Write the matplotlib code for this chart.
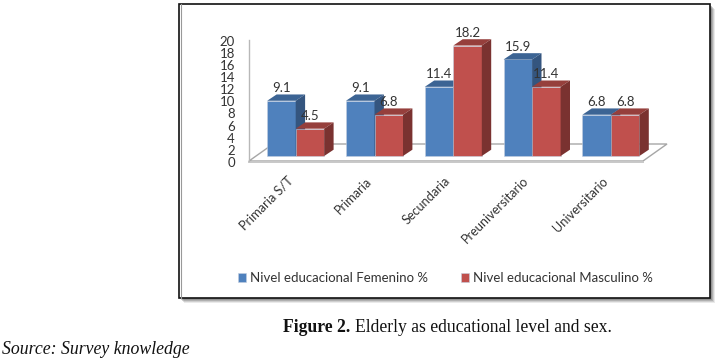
import matplotlib
matplotlib.use("Agg")
import matplotlib.pyplot as plt
from matplotlib.patches import Polygon, Rectangle

categories = ["Primaria S/T", "Primaria", "Secundaria", "Preuniversitario", "Universitario"]
femenino = [9.1, 9.1, 11.4, 15.9, 6.8]
masculino = [4.5, 6.8, 18.2, 11.4, 6.8]
y_ticks = [0, 2, 4, 6, 8, 10, 12, 14, 16, 18, 20]
series_names = ["Nivel educacional Femenino %", "Nivel educacional Masculino %"]

W, H = 717, 360
X0_PX, X_UNIT = 295.7, 78.8   # pixel of first category, pixels per category
Y0_PX, Y_UNIT = 156, 6.07     # pixel of value 0 on the bars, pixels per unit
BAR_W = 28.5 / X_UNIT
DX, DY = 9.4 / X_UNIT, 6.3 / Y_UNIT   # 3d depth of the bars

BLUE, BLUE_TOP, BLUE_SIDE = "#4F81BD", "#3C6494", "#34557F"
RED, RED_TOP, RED_SIDE = "#C0504D", "#963F3C", "#7A3230"
TEXT = "#333333"

fig = plt.figure(figsize=(W / 100, H / 100), dpi=100, facecolor="white")
ax = fig.add_axes([0, 0, 1, 1])
ax.set_xlim(-X0_PX / X_UNIT, (W - X0_PX) / X_UNIT)
ax.set_ylim((Y0_PX - H) / Y_UNIT, Y0_PX / Y_UNIT)
ax.axis("off")


def px(x, y):
    return (x - X0_PX) / X_UNIT, (Y0_PX - y) / Y_UNIT


# --- frame and shadow ---
for off, alpha in [(5, 0.12), (4, 0.18), (3, 0.25), (2, 0.3)]:
    x1, y1 = px(179 + off, 298 + off)
    x2, y2 = px(710 + off, 4 + off)
    ax.add_patch(Rectangle((x1, y1), x2 - x1, y2 - y1, fc="#555555", ec="none", alpha=alpha, zorder=0))
x1, y1 = px(179, 298)
x2, y2 = px(710, 4)
ax.add_patch(Rectangle((x1, y1), x2 - x1, y2 - y1, fc="white", ec="#111111", lw=1.2, zorder=1))
xl, _ = px(181, 0)
ax.plot([xl, xl], [y1, y2], color="#999999", lw=0.8, zorder=1)

# --- wall and floor ---
floor = [px(249, 161), px(643, 161), px(667, 144), px(273, 144)]
ax.add_patch(Polygon(floor, closed=True, fc="white", ec="#a6a6a6", lw=1.0, zorder=2))
ax.plot(*zip(px(249, 162), px(643, 162)), color="#c8c8c8", lw=1.4, zorder=2)
ax.plot(*zip(px(249, 161), px(249, 39.5)), color="#b8b8b8", lw=1.0, zorder=2)

for v in y_ticks:
    lx, ly = px(235, 163 - v * Y_UNIT)
    ax.text(lx, ly, str(v), ha="right", va="center", fontsize=9.5, family="Lato", color=TEXT, zorder=6)


# --- bars ---
def draw_bars(values, offset, face, top, side, name, z):
    xs = [i + offset for i in range(len(values))]
    bars = ax.bar(xs, values, width=BAR_W, align="edge", color=face, edgecolor="#c3cfe0",
                  linewidth=0.4, zorder=z, label=name)
    for x, v in zip(xs, values):
        ax.add_patch(Polygon([(x, v), (x + BAR_W, v), (x + BAR_W + DX, v + DY), (x + DX, v + DY)],
                             closed=True, fc=top, ec="none", zorder=z))
        ax.add_patch(Polygon([(x + BAR_W, 0), (x + BAR_W + DX, DY), (x + BAR_W + DX, v + DY), (x + BAR_W, v)],
                             closed=True, fc=side, ec="none", zorder=z))
        ax.text(x + BAR_W / 2, v + 12.5 / Y_UNIT, f"{v:.1f}", ha="center", va="center",
                fontsize=9.5, family="Lato", color=TEXT, zorder=7)
    return bars


bars_f = draw_bars(femenino, -BAR_W, BLUE, BLUE_TOP, BLUE_SIDE, series_names[0], 3)
bars_m = draw_bars(masculino, 0, RED, RED_TOP, RED_SIDE, series_names[1], 4)

# --- category labels ---
for i, name in enumerate(categories):
    _, ly = px(0, 179)
    ax.text(i - 5 / X_UNIT, ly, name, rotation=45, rotation_mode="anchor", ha="right", va="center",
            fontsize=9.2, family="Lato", color=TEXT, zorder=6)

# --- legend ---
leg = ax.legend(handles=[bars_f, bars_m], ncol=2, frameon=False, loc="center left",
                bbox_to_anchor=(238 / W, 1 - 278 / H), bbox_transform=fig.transFigure,
                prop={"family": "Lato", "size": 9.55}, labelcolor=TEXT, borderpad=0, borderaxespad=0,
                handlelength=0.6, handleheight=0.6, handletextpad=0.3, columnspacing=2.5)
leg.set_zorder(8)

# --- caption ---
fig.text(283 / W, 1 - 328 / H, r"Figure 2.", family="Liberation Serif", fontweight="bold",
         fontsize=12.7, va="center", color="#111111")
fig.text(355 / W, 1 - 328 / H, "Elderly as educational level and sex.", family="Liberation Serif",
         fontsize=12.7, va="center", color="#111111")
fig.text(2 / W, 1 - 349 / H, "Source: Survey knowledge", family="Liberation Serif", style="italic",
         fontsize=12.8, va="center", color="#111111")

fig.savefig("out.png", dpi=100)
